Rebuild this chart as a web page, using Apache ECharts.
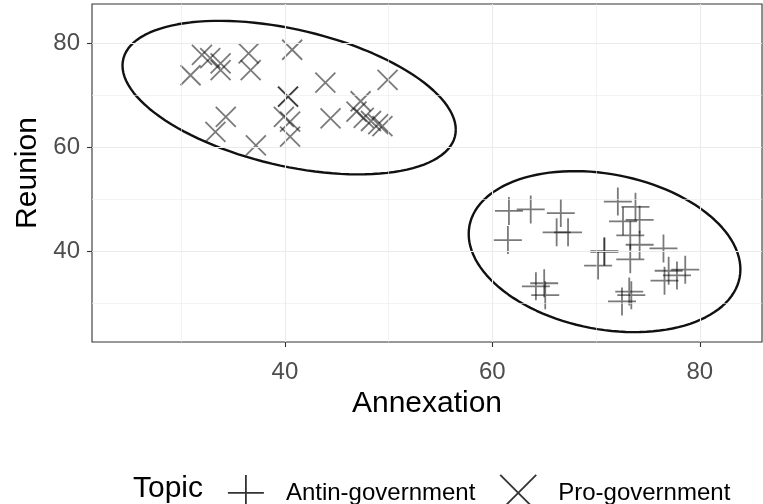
<!DOCTYPE html>
<html>
<head>
<meta charset="utf-8">
<script src="https://cdn.jsdelivr.net/npm/echarts@6/dist/echarts.min.js"></script>
<style>
  html, body { margin: 0; padding: 0; background: #fff; }
  #chart { width: 763px; height: 504px; }
</style>
</head>
<body>
<div id="chart"></div>
<script>
// Survey scores per respondent: support for annexation vs. reunion
const proX = [30.9, 32.0, 32.8, 33.8, 33.8, 36.5, 36.7, 40.7, 43.9, 49.9, 40.3, 40.3, 34.3, 33.3, 37.2, 39.9, 40.5, 40.5, 44.4, 47.3, 46.9, 47.6, 48.3, 49.0, 49.4];
const proY = [73.8, 77.7, 77.1, 76.1, 74.8, 78.0, 74.8, 78.7, 72.4, 72.9, 69.7, 69.7, 65.8, 62.9, 60.3, 65.8, 64.9, 62.0, 65.5, 68.8, 66.8, 65.6, 65.0, 64.4, 64.0];
const antiX = [61.6, 63.7, 66.6, 61.5, 66.2, 67.3, 72.1, 73.8, 72.6, 74.2, 73.3, 74.2, 73.3, 70.8, 70.8, 70.2, 76.5, 77.0, 76.6, 77.8, 78.6, 64.2, 65.0, 65.1, 73.2, 73.4, 72.5];
const antiY = [47.7, 48.0, 47.3, 42.1, 43.6, 43.6, 49.5, 48.5, 45.7, 46.0, 43.0, 41.2, 38.4, 39.9, 39.9, 37.2, 40.5, 36.2, 34.3, 35.3, 36.4, 33.2, 33.8, 31.5, 32.2, 31.5, 30.3];

const topicNames = ['Antin-government', 'Pro-government'];
const xTicks = [40, 60, 80];
const yTicks = [40, 60, 80];
const xMinorGrid = [30, 50, 70];
const yMinorGrid = [30, 50, 70];

// Sample mean and unbiased covariance of a 2-D point cloud
function covNorm(xs, ys) {
  const n = xs.length;
  const mx = xs.reduce((a, b) => a + b, 0) / n;
  const my = ys.reduce((a, b) => a + b, 0) / n;
  let cxx = 0, cxy = 0, cyy = 0;
  for (let i = 0; i < n; i++) {
    const dx = xs[i] - mx, dy = ys[i] - my;
    cxx += dx * dx; cxy += dx * dy; cyy += dy * dy;
  }
  return { mx, my, cxx: cxx / (n - 1), cxy: cxy / (n - 1), cyy: cyy / (n - 1) };
}

// Confidence ellipse outline at the given level (F(2, n-1) radius)
function ellipse(xs, ys, level) {
  const n = xs.length;
  const c = covNorm(xs, ys);
  const d2 = n - 1;
  const fq = d2 / 2 * (Math.pow(1 - level, -2 / d2) - 1);
  const r = Math.sqrt(2 * fq);
  const a = Math.sqrt(c.cxx), b = c.cxy / a, cc = Math.sqrt(c.cyy - b * b);
  const pts = [];
  for (let k = 0; k <= 120; k++) {
    const t = k * 2 * Math.PI / 120;
    const u = Math.cos(t), v = Math.sin(t);
    pts.push([c.mx + r * a * u, c.my + r * (b * u + cc * v)]);
  }
  return pts;
}

const zip = (xs, ys) => xs.map((x, i) => [x, ys[i]]);

const plusPath = 'path://M10,0L10,20M0,10L20,10';
const crossPath = 'path://M0,0L20,20M20,0L0,20';
const markColor = 'rgba(0,0,0,0.65)';
const gridColor = '#ebebeb';

const gridLines = [];
xTicks.forEach(v => gridLines.push({ xAxis: v, lineStyle: { width: 1.1 } }));
xMinorGrid.forEach(v => gridLines.push({ xAxis: v, lineStyle: { width: 0.6 } }));
yTicks.forEach(v => gridLines.push({ yAxis: v, lineStyle: { width: 1.1 } }));
yMinorGrid.forEach(v => gridLines.push({ yAxis: v, lineStyle: { width: 0.6 } }));

const font = '"Liberation Sans", Arial, sans-serif';

const chart = echarts.init(document.getElementById('chart'), null, { renderer: 'canvas' });
chart.setOption({
  animation: false,
  backgroundColor: '#ffffff',
  textStyle: { fontFamily: font },
  grid: {
    left: 92, right: 1, top: 4, bottom: 162,
    show: true, borderColor: '#333333', borderWidth: 1.1, backgroundColor: 'transparent'
  },
  xAxis: {
    type: 'value', min: 21.4, max: 86,
    name: 'Annexation', nameLocation: 'middle', nameGap: 46,
    nameTextStyle: { fontSize: 30, color: '#000', fontFamily: font },
    axisLine: { show: false },
    splitLine: { show: false },
    axisTick: { show: true, length: 5, lineStyle: { color: '#333333', width: 1.1 }, customValues: xTicks },
    axisLabel: { fontSize: 24, color: '#4d4d4d', margin: 18, fontFamily: font, customValues: xTicks }
  },
  yAxis: {
    type: 'value', min: 22.5, max: 87.5,
    name: 'Reunion', nameLocation: 'middle', nameGap: 49,
    nameTextStyle: { fontSize: 30, color: '#000', fontFamily: font },
    axisLine: { show: false },
    splitLine: { show: false },
    axisTick: { show: true, length: 5, lineStyle: { color: '#333333', width: 1.1 }, customValues: yTicks },
    axisLabel: { fontSize: 24, color: '#4d4d4d', margin: 12, fontFamily: font, customValues: yTicks }
  },
  legend: {
    data: topicNames,
    left: 222, top: 469,
    itemWidth: 70, itemHeight: 36, itemGap: 24,
    symbolKeepAspect: true,
    textStyle: { fontSize: 24, color: '#000', fontFamily: font },
    itemStyle: { color: 'transparent', borderColor: '#000', borderWidth: 1.8 }
  },
  graphic: [{
    type: 'text', left: 133, top: 474,
    style: { text: 'Topic', fontSize: 30, fill: '#000', fontFamily: font }
  }],
  series: [
    {
      name: 'grid', type: 'line', data: [], z: 0, silent: true,
      markLine: {
        silent: true, symbol: ['none', 'none'], label: { show: false },
        lineStyle: { color: gridColor, type: 'solid' },
        data: gridLines, animation: false
      }
    },
    {
      name: 'Antin-government', type: 'scatter', data: zip(antiX, antiY),
      symbol: plusPath, symbolSize: 28, z: 2,
      itemStyle: { color: 'transparent', borderColor: markColor, borderWidth: 1.8 },
      emphasis: { disabled: true }
    },
    {
      name: 'Pro-government', type: 'scatter', data: zip(proX, proY),
      symbol: crossPath, symbolSize: 20, z: 2,
      itemStyle: { color: 'transparent', borderColor: markColor, borderWidth: 1.8 },
      emphasis: { disabled: true }
    },
    {
      name: 'ellipse-anti', type: 'line', data: ellipse(antiX, antiY, 0.95),
      showSymbol: false, smooth: false, z: 3, silent: true,
      lineStyle: { color: '#111', width: 2.4 }
    },
    {
      name: 'ellipse-pro', type: 'line', data: ellipse(proX, proY, 0.95),
      showSymbol: false, smooth: false, z: 3, silent: true,
      lineStyle: { color: '#111', width: 2.4 }
    }
  ]
});
</script>
</body>
</html>
